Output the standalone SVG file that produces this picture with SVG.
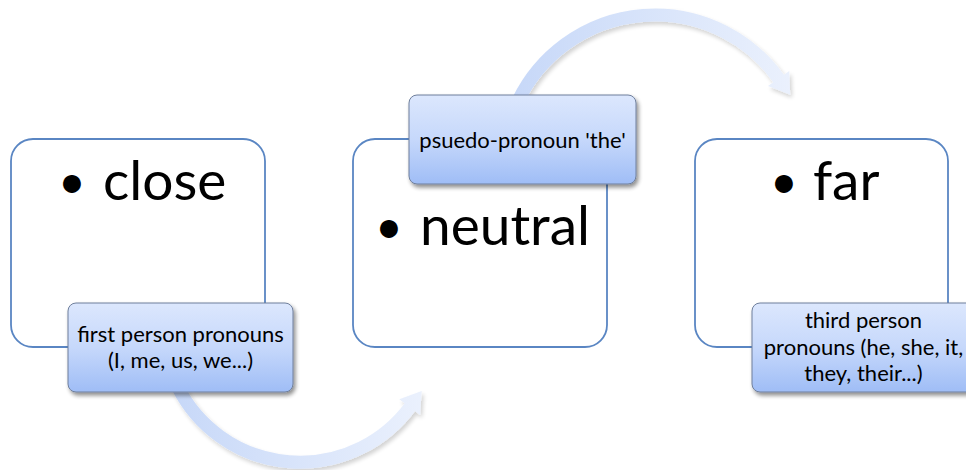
<svg xmlns="http://www.w3.org/2000/svg" width="966" height="470" viewBox="0 0 966 470">
  <defs>
    <linearGradient id="labelFill" x1="0" y1="0" x2="0" y2="1">
      <stop offset="0" stop-color="#dce7fd"/>
      <stop offset="0.5" stop-color="#c6d8fb"/>
      <stop offset="1" stop-color="#9fbdf6"/>
    </linearGradient>
    <linearGradient id="arrowLow" gradientUnits="userSpaceOnUse" x1="175" y1="0" x2="425" y2="0">
      <stop offset="0" stop-color="#c7d8f8"/>
      <stop offset="1" stop-color="#ebf1fd"/>
    </linearGradient>
    <linearGradient id="arrowHigh" gradientUnits="userSpaceOnUse" x1="515" y1="0" x2="795" y2="0">
      <stop offset="0" stop-color="#c7d8f8"/>
      <stop offset="1" stop-color="#ebf1fd"/>
    </linearGradient>
    <filter id="labelShadow" x="-10%" y="-10%" width="125%" height="135%">
      <feGaussianBlur in="SourceAlpha" stdDeviation="2.2"/>
      <feOffset dx="1.5" dy="3" result="b"/>
      <feComponentTransfer><feFuncA type="linear" slope="0.45"/></feComponentTransfer>
      <feMerge><feMergeNode/><feMergeNode in="SourceGraphic"/></feMerge>
    </filter>
    <filter id="arrowShadow" x="-10%" y="-10%" width="125%" height="135%">
      <feGaussianBlur in="SourceAlpha" stdDeviation="2"/>
      <feOffset dx="1.5" dy="2.5" result="b"/>
      <feComponentTransfer><feFuncA type="linear" slope="0.18"/></feComponentTransfer>
      <feMerge><feMergeNode/><feMergeNode in="SourceGraphic"/></feMerge>
    </filter>
  </defs>
  <style>
    .panel { fill: #ffffff; stroke: #5a86c3; stroke-width: 1.8; }
    .label { fill: url(#labelFill); stroke: #6f7f9c; stroke-width: 1; filter: url(#labelShadow); }
    .big { font-family: Lato, "Liberation Sans", sans-serif; font-size: 55px; fill: #000; }
    .dot { font-size: 48px; }
    .small { font-family: Lato, "Liberation Sans", sans-serif; font-size: 22px; fill: #000; text-anchor: middle; }
  </style>

  <!-- curved connectors -->
  <g id="connectors">
    <g filter="url(#arrowShadow)">
      <path d="M 177.9 387.2 A 137 137 0 0 0 410.5 406.3" fill="none" stroke="url(#arrowLow)" stroke-width="13"/>
      <polygon points="421.7,391.1 420.1,414.9 399.3,399.3" fill="url(#arrowLow)"/>
    </g>
    <g filter="url(#arrowShadow)">
      <path d="M 518.5 100 A 152 152 0 0 1 779.3 79.5" fill="none" stroke="url(#arrowHigh)" stroke-width="13"/>
      <polygon points="790.2,94.8 789.2,70.9 768.0,86.1" fill="url(#arrowHigh)"/>
    </g>
  </g>

  <!-- close -->
  <g id="node-close">
    <rect class="panel" x="11" y="139" width="254" height="208" rx="22"/>
    <text class="big" y="200"><tspan class="dot" x="58" y="198">•</tspan><tspan x="103" y="200">close</tspan></text>
    <rect class="label" x="68" y="303" width="225" height="89" rx="8"/>
    <text class="small"><tspan x="180.5" y="342">first person pronouns</tspan><tspan x="180.5" y="368">(I, me, us, we...)</tspan></text>
  </g>

  <!-- neutral -->
  <g id="node-neutral">
    <rect class="panel" x="353" y="139" width="254" height="208" rx="22"/>
    <text class="big" y="245"><tspan class="dot" x="375" y="243">•</tspan><tspan x="420" y="245">neutral</tspan></text>
    <rect class="label" x="409" y="95" width="227" height="89" rx="8"/>
    <text class="small" x="522.5" y="148">psuedo-pronoun 'the'</text>
  </g>

  <!-- far -->
  <g id="node-far">
    <rect class="panel" x="695" y="139" width="253" height="208" rx="22"/>
    <text class="big" y="200"><tspan class="dot" x="770" y="198">•</tspan><tspan x="813" y="200">far</tspan></text>
    <rect class="label" x="752" y="303" width="225" height="89" rx="8"/>
    <text class="small"><tspan x="863.5" y="328">third person</tspan><tspan x="863.5" y="355">pronouns (he, she, it,</tspan><tspan x="863.5" y="381">they, their...)</tspan></text>
  </g>
</svg>
